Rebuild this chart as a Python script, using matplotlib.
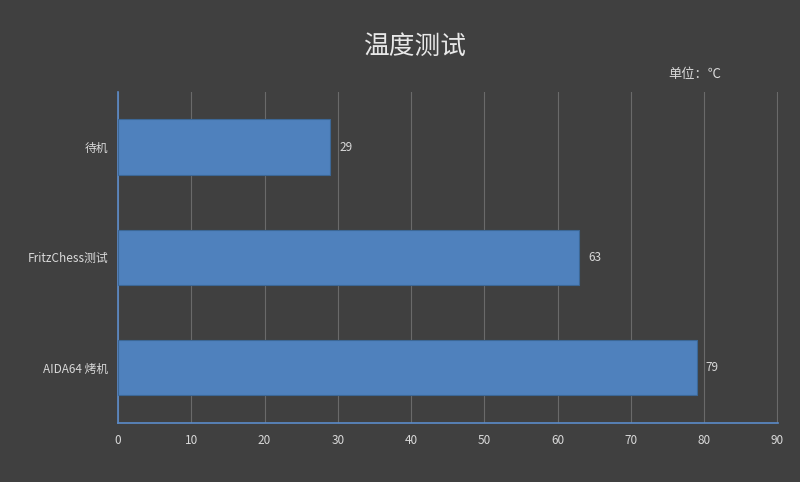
import matplotlib
matplotlib.use("Agg")
import matplotlib.pyplot as plt

plt.rcParams['font.family'] = ['Noto Sans CJK SC', 'DejaVu Sans']

categories = ['待机', 'FritzChess测试', 'AIDA64 烤机']
temps = [29, 63, 79]
xticks = [0, 10, 20, 30, 40, 50, 60, 70, 80, 90]

bg = '#404040'
bar_color = '#4f81bd'
text_color = '#d9d9d9'

fig = plt.figure(figsize=(8, 4.82), dpi=100, facecolor=bg)
ax = fig.add_axes([0.1475, 0.1224, 0.825, 0.687])
ax.set_facecolor(bg)

pos = list(range(len(categories)))
bars = ax.barh(pos, temps, height=0.5, color=bar_color, edgecolor='#3c6796',
               linewidth=0.8, zorder=3)
ax.set_ylim(len(categories) - 0.5, -0.5)
ax.set_xlim(0, 90.1)
ax.set_xticks(xticks)
ax.set_yticks(pos)
ax.set_yticklabels(categories)

for b, v in zip(bars, temps):
    ax.text(b.get_width() + 1.2, b.get_y() + b.get_height() / 2, str(v),
            va='center', ha='left', color=text_color, fontsize=8.5)

ax.grid(axis='x', color='#6a6a6a', linewidth=0.8, zorder=0)
ax.tick_params(axis='both', length=0, colors=text_color, labelsize=8.5)
ax.tick_params(axis='y', pad=7)
ax.tick_params(axis='x', pad=8)
for s in ['top', 'right']:
    ax.spines[s].set_visible(False)
ax.spines['left'].set_color('#5b8bc9')
ax.spines['bottom'].set_color('#5b8bc9')
ax.spines['left'].set_linewidth(1.2)
ax.spines['bottom'].set_linewidth(1.2)

fig.text(0.519, 0.902, '温度测试', ha='center', va='center', color='#e8e8e8',
         fontsize=18.5)
fig.text(0.835, 0.845, '单位：℃', ha='left', va='center', color=text_color,
         fontsize=9.5)

fig.savefig('out.png', dpi=100, facecolor=bg)
